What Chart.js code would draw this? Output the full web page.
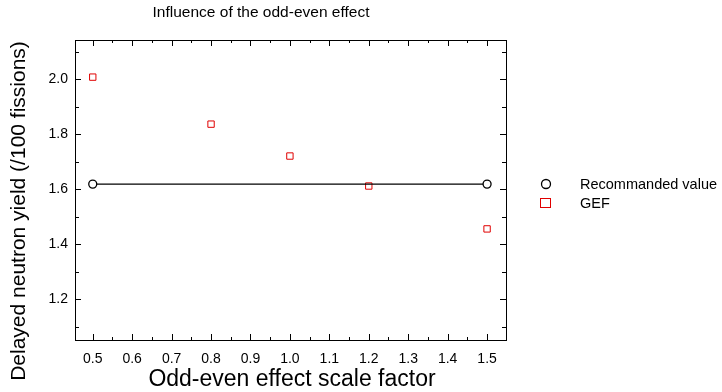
<!DOCTYPE html>
<html>
<head>
<meta charset="utf-8">
<script src="https://cdn.jsdelivr.net/npm/chart.js@4/dist/chart.umd.min.js"></script>
<style>
  html, body { margin: 0; padding: 0; background: #fff; }
  #wrap { width: 722px; height: 392px; }
</style>
</head>
<body>
<div id="wrap"><canvas id="chart"></canvas></div>
<script>
const scaleFactor = [0.5, 0.8, 1.0, 1.2, 1.5];
const gefYield = [2.007, 1.836, 1.720, 1.611, 1.455];
const recX = [0.5, 1.5];
const recYield = [1.618, 1.618];
const xTicks = [0.5, 0.6, 0.7, 0.8, 0.9, 1.0, 1.1, 1.2, 1.3, 1.4, 1.5];
const yTicks = [1.2, 1.4, 1.6, 1.8, 2.0];
const xMinor = [0.55, 0.65, 0.75, 0.85, 0.95, 1.05, 1.15, 1.25, 1.35, 1.45];
const yMinor = [1.1, 1.3, 1.5, 1.7, 1.9, 2.1];

const FONT = "'Liberation Sans', 'DejaVu Sans', sans-serif";

// frame, ticks drawn inside on all four sides, titles and legend
const decor = {
  id: 'decor',
  afterDraw(chart) {
    const ctx = chart.ctx, a = chart.chartArea;
    const xs = chart.scales.x, ys = chart.scales.y;
    ctx.save();
    ctx.strokeStyle = '#000';
    ctx.lineWidth = 1;
    ctx.beginPath();
    const xt = (v, len) => {
      const p = Math.round(xs.getPixelForValue(v)) + 0.5;
      ctx.moveTo(p, a.bottom); ctx.lineTo(p, a.bottom - len);
      ctx.moveTo(p, a.top); ctx.lineTo(p, a.top + len);
    };
    const yt = (v, len) => {
      const p = Math.round(ys.getPixelForValue(v)) + 0.5;
      ctx.moveTo(a.left, p); ctx.lineTo(a.left + len, p);
      ctx.moveTo(a.right, p); ctx.lineTo(a.right - len, p);
    };
    xTicks.forEach(v => xt(v, 6));
    xMinor.forEach(v => xt(v, 3));
    yTicks.forEach(v => yt(v, 6));
    yMinor.forEach(v => yt(v, 4));
    ctx.stroke();
    ctx.strokeRect(Math.round(a.left) + 0.5, Math.round(a.top) + 0.5,
                   Math.round(a.right - a.left), Math.round(a.bottom - a.top));

    ctx.fillStyle = '#000';
    ctx.textAlign = 'center';
    ctx.textBaseline = 'middle';
    ctx.font = '15.5px ' + FONT;
    ctx.fillText('Influence of the odd-even effect', 261, 13);
    ctx.font = '23px ' + FONT;
    ctx.fillText('Odd-even effect scale factor', 292, 380);
    ctx.save();
    ctx.translate(19, 211);
    ctx.rotate(-Math.PI / 2);
    ctx.font = '21px ' + FONT;
    ctx.fillText('Delayed neutron yield (/100 fissions)', 0, 0);
    ctx.restore();

    // legend
    ctx.textAlign = 'left';
    ctx.font = '14.5px ' + FONT;
    ctx.beginPath();
    ctx.arc(546, 184, 4.5, 0, Math.PI * 2);
    ctx.fillStyle = '#fff'; ctx.fill();
    ctx.strokeStyle = '#000'; ctx.lineWidth = 1.3; ctx.stroke();
    ctx.fillStyle = '#000';
    ctx.fillText('Recommanded value', 580, 185);
    ctx.strokeStyle = '#e00000'; ctx.lineWidth = 1;
    ctx.strokeRect(540.5, 198.5, 10, 9);
    ctx.fillText('GEF', 580, 204);
    ctx.restore();
  }
};

new Chart(document.getElementById('chart'), {
  type: 'scatter',
  data: {
    datasets: [
      {
        label: 'Recommanded value',
        data: recX.map((x, i) => ({ x: x, y: recYield[i] })),
        showLine: true,
        borderColor: '#000',
        borderWidth: 1.2,
        pointStyle: 'circle',
        pointRadius: 4,
        pointBorderWidth: 1.3,
        pointBackgroundColor: '#fff',
        pointBorderColor: '#000'
      },
      {
        label: 'GEF',
        data: scaleFactor.map((x, i) => ({ x: x, y: gefYield[i] })),
        pointStyle: 'rect',
        pointRadius: 4.5,
        pointBorderWidth: 1,
        pointBackgroundColor: '#fff',
        pointBorderColor: '#e00000'
      }
    ]
  },
  options: {
    responsive: true,
    maintainAspectRatio: false,
    animation: false,
    layout: { padding: { left: 0, right: 216, top: 40, bottom: 0 } },
    plugins: {
      legend: { display: false },
      tooltip: { enabled: false }
    },
    scales: {
      x: {
        type: 'linear',
        min: 0.455,
        max: 1.548,
        afterBuildTicks: s => { s.ticks = xTicks.map(v => ({ value: v })); },
        afterFit: s => { s.height = 52; },
        grid: { display: false, drawTicks: false },
        border: { display: false },
        ticks: {
          color: '#000',
          padding: 11,
          maxRotation: 0,
          font: { family: FONT, size: 14 },
          callback: v => v.toFixed(1)
        }
      },
      y: {
        type: 'linear',
        min: 1.051,
        max: 2.142,
        afterBuildTicks: s => { s.ticks = yTicks.map(v => ({ value: v })); },
        afterFit: s => { s.width = 75; },
        grid: { display: false, drawTicks: false },
        border: { display: false },
        ticks: {
          color: '#000',
          padding: 7,
          font: { family: FONT, size: 14 },
          callback: v => v.toFixed(1)
        }
      }
    }
  },
  plugins: [decor]
});
</script>
</body>
</html>
